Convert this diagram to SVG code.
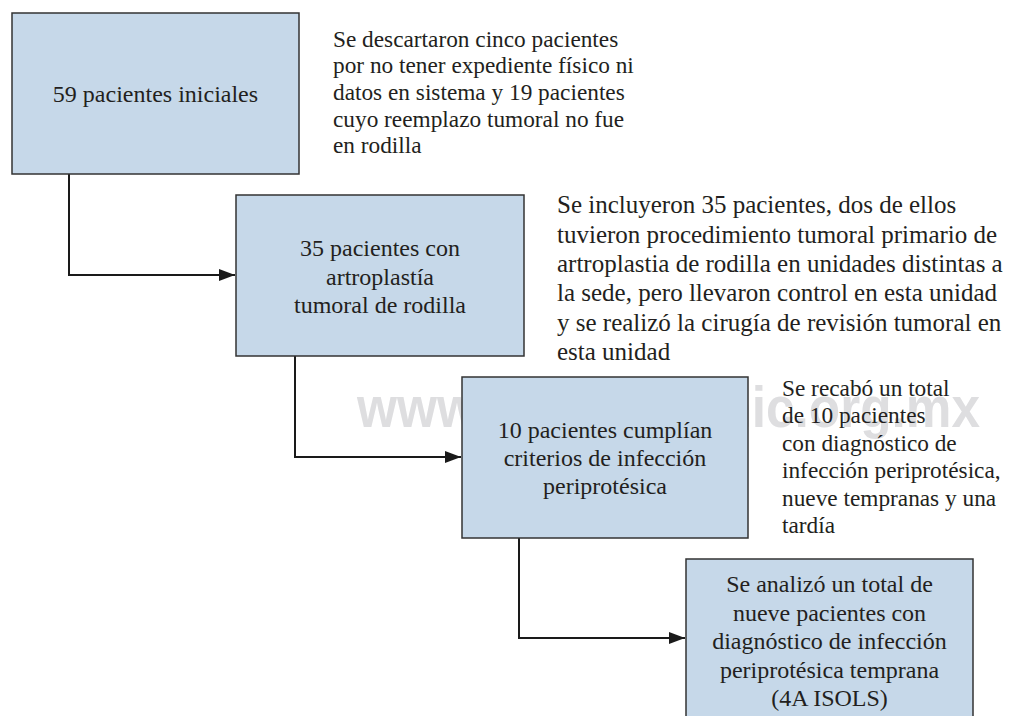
<svg xmlns="http://www.w3.org/2000/svg" width="1010" height="716" viewBox="0 0 1010 716">
<style>
.box{fill:#c6d8e9;stroke:#333333;stroke-width:1.5}
.t{font-family:'Liberation Serif','Times New Roman',serif;fill:#231f20}
.c{text-anchor:middle;font-size:24px}
.s{font-size:23.3px}
.s2{font-size:25px}
.wm{font-family:'Liberation Sans',Arial,sans-serif;font-weight:bold;font-size:58px;fill:#dedee0}
.conn{fill:none;stroke:#1a1a1a;stroke-width:2}
</style>
<defs>
<marker id="arr" markerUnits="userSpaceOnUse" markerWidth="17" markerHeight="13" refX="16" refY="6" orient="auto">
<path d="M0,0 L16,6 L0,12 z" fill="#1a1a1a"/>
</marker>
</defs>
<rect width="1010" height="716" fill="#ffffff"/>
<text class="wm" x="357" y="427" textLength="623" lengthAdjust="spacingAndGlyphs">www.medigraphic.org.mx</text>
<g id="connectors">
<path class="conn" d="M69,174 V275 H235" marker-end="url(#arr)"/>
<path class="conn" d="M295,356 V457 H461" marker-end="url(#arr)"/>
<path class="conn" d="M519,538 V638 H685" marker-end="url(#arr)"/>
</g>
<g id="node1">
<rect class="box" x="12" y="13" width="287" height="161"/>
<text class="t c" x="155.5" y="102">59 pacientes iniciales</text>
</g>
<g id="note1">
<text class="t s" x="333" y="46.5">Se descartaron cinco pacientes</text>
<text class="t s" x="333" y="73.2">por no tener expediente físico ni</text>
<text class="t s" x="333" y="99.9">datos en sistema y 19 pacientes</text>
<text class="t s" x="333" y="126.6">cuyo reemplazo tumoral no fue</text>
<text class="t s" x="333" y="153.3">en rodilla</text>
</g>
<g id="node2">
<rect class="box" x="236" y="195" width="288" height="161"/>
<text class="t c" x="380" y="256">35 pacientes con</text>
<text class="t c" x="380" y="284.5">artroplastía</text>
<text class="t c" x="380" y="313">tumoral de rodilla</text>
</g>
<g id="note2">
<text class="t s2" x="557" y="213.3">Se incluyeron 35 pacientes, dos de ellos</text>
<text class="t s2" x="557" y="242.6">tuvieron procedimiento tumoral primario de</text>
<text class="t s2" x="557" y="271.9">artroplastia de rodilla en unidades distintas a</text>
<text class="t s2" x="557" y="301.2">la sede, pero llevaron control en esta unidad</text>
<text class="t s2" x="557" y="330.5">y se realizó la cirugía de revisión tumoral en</text>
<text class="t s2" x="557" y="359.8">esta unidad</text>
</g>
<g id="node3">
<rect class="box" x="462" y="377" width="286" height="161"/>
<text class="t c" x="605" y="438">10 pacientes cumplían</text>
<text class="t c" x="605" y="466">criterios de infección</text>
<text class="t c" x="605" y="494">periprotésica</text>
</g>
<g id="note3">
<text class="t s" x="782" y="396">Se recabó un total</text>
<text class="t s" x="782" y="423.4">de 10 pacientes</text>
<text class="t s" x="782" y="450.8">con diagnóstico de</text>
<text class="t s" x="782" y="478.2">infección periprotésica,</text>
<text class="t s" x="782" y="505.6">nueve tempranas y una</text>
<text class="t s" x="782" y="533">tardía</text>
</g>
<g id="node4">
<rect class="box" x="686" y="559" width="287" height="162"/>
<text class="t c" x="829.5" y="592">Se analizó un total de</text>
<text class="t c" x="829.5" y="620.5">nueve pacientes con</text>
<text class="t c" x="829.5" y="649">diagnóstico de infección</text>
<text class="t c" x="829.5" y="677.5">periprotésica temprana</text>
<text class="t c" x="829.5" y="706">(4A ISOLS)</text>
</g>
</svg>
